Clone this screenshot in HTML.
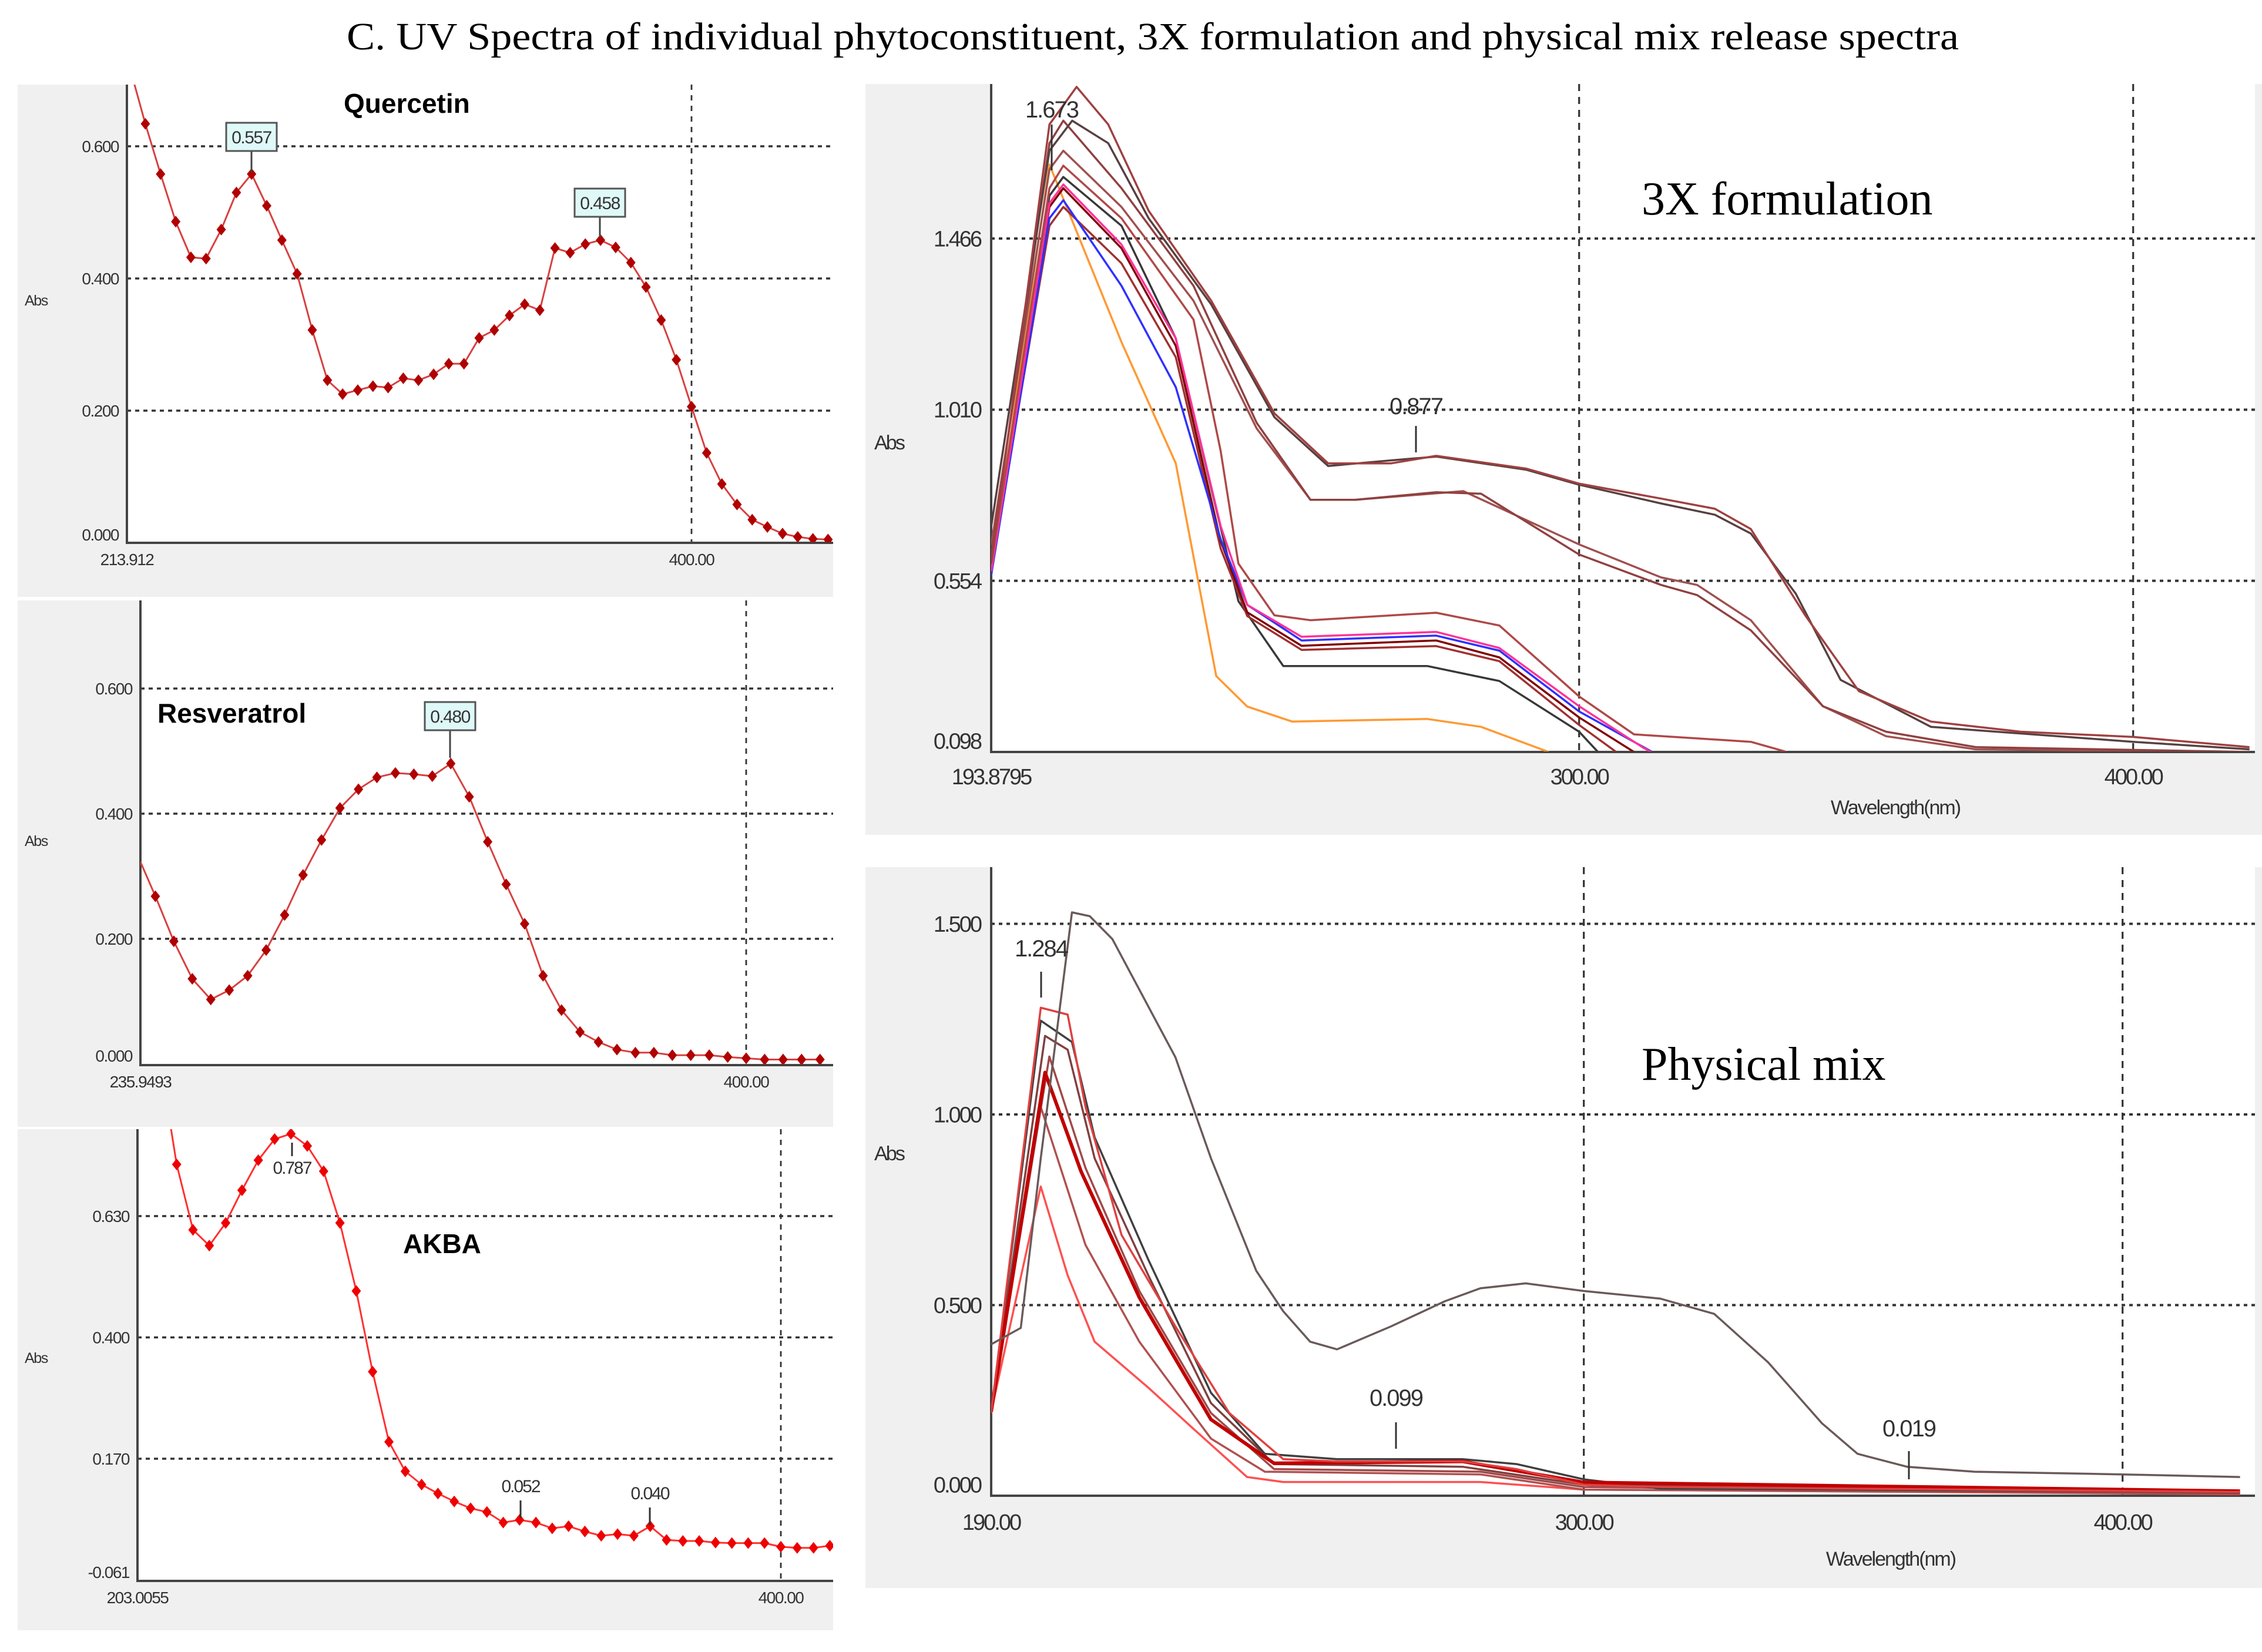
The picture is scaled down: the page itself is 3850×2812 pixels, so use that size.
<!DOCTYPE html>
<html><head><meta charset="utf-8">
<style>
html,body{margin:0;padding:0;background:#fff;}
svg{display:block;}
text{font-family:"Liberation Sans",sans-serif;}
</style></head>
<body>
<svg id="fig" xmlns="http://www.w3.org/2000/svg" width="3850" height="2812" viewBox="0 0 3850 2812">
<text x="1962" y="84" text-anchor="middle" font-size="66" style="font-family:'Liberation Serif',serif" textLength="2744" lengthAdjust="spacingAndGlyphs">C. UV Spectra of individual phytoconstituent, 3X formulation and physical mix release spectra</text>
</svg>
<script>
// ---------- data ----------
const quercetinWavelengths = [210,220,225,230,235,240,245,250,255,260,265,270,275,280,285,290,295,300,305,310,315,320,325,330,335,340,345,350,355,360,365,370,375,380,385,390,395,400,405,410,415,420,425,430,435,440,445];
const quercetinAbs = [0.80,0.634,0.558,0.486,0.432,0.430,0.474,0.530,0.558,0.510,0.458,0.407,0.322,0.246,0.225,0.231,0.237,0.235,0.249,0.246,0.255,0.271,0.271,0.310,0.322,0.344,0.361,0.352,0.446,0.439,0.452,0.458,0.447,0.424,0.387,0.337,0.277,0.206,0.136,0.089,0.058,0.035,0.024,0.014,0.009,0.006,0.005];
const quercetinTicks = ["0.000","0.200","0.400","0.600"];

const resveratrolWavelengths = [235.95,240,245,250,255,260,265,270,275,280,285,290,295,300,305,310,315,320,325,330,335,340,345,350,355,360,365,370,375,380,385,390,395,400,405,410,415,420];
const resveratrolAbs = [0.323,0.268,0.196,0.136,0.103,0.118,0.141,0.182,0.238,0.302,0.358,0.409,0.439,0.458,0.465,0.463,0.460,0.480,0.427,0.355,0.287,0.224,0.141,0.086,0.051,0.035,0.023,0.018,0.018,0.014,0.014,0.014,0.011,0.009,0.007,0.007,0.007,0.007];
const resveratrolTicks = ["0.000","0.200","0.400","0.600"];

const akbaWavelengths = [208,215,220,225,230,235,240,245,250,255,260,265,270,275,280,285,290,295,300,305,310,315,320,325,330,335,340,345,350,355,360,365,370,375,380,385,390,395,400,405,410,415];
const akbaAbs = [1.0,0.728,0.604,0.574,0.617,0.679,0.736,0.776,0.786,0.763,0.715,0.617,0.488,0.335,0.202,0.146,0.121,0.104,0.089,0.076,0.069,0.049,0.054,0.049,0.038,0.042,0.032,0.024,0.027,0.024,0.042,0.016,0.014,0.014,0.011,0.010,0.010,0.010,0.003,0.001,0.001,0.005];
const akbaTicks = ["-0.061","0.170","0.400","0.630"];

// 3X formulation series: [wavelength nm, Abs]
const f3_a1 = [[193.9,0.60],[204.4,1.77],[209.3,1.87],[215,1.77],[222.3,1.54],[233.6,1.30],[245,1.00],[254.7,0.867],[266.1,0.867],[274.2,0.887],[290.4,0.853],[300,0.813],[314.8,0.773],[324.5,0.746],[331,0.692],[340.8,0.462],[350.5,0.26],[363.5,0.179],[379.7,0.152],[400,0.138],[421,0.111]];
const f3_a2 = [[193.9,0.70],[204.4,1.70],[208.5,1.78],[215,1.72],[222.3,1.52],[233.6,1.29],[245,0.99],[254.7,0.86],[266.1,0.875],[274.2,0.885],[290.4,0.85],[300,0.81],[314.8,0.76],[324.5,0.73],[331,0.68],[339.1,0.52],[347.2,0.29],[363.5,0.165],[400,0.125],[421,0.105]];
const f3_b1 = [[193.9,0.62],[204.4,1.72],[206.9,1.78],[217.4,1.60],[230.4,1.34],[241.8,0.975],[251.5,0.77],[259.6,0.77],[274.2,0.79],[282.3,0.786],[300,0.624],[314.8,0.543],[321.3,0.516],[331,0.422],[344,0.22],[355.4,0.152],[371.6,0.111],[421,0.098]];
const f3_b2 = [[193.9,0.65],[204.4,1.65],[206.9,1.70],[217.4,1.55],[230.4,1.30],[241.8,0.96],[251.5,0.77],[259.6,0.77],[279.1,0.793],[300,0.651],[314.8,0.563],[321.3,0.543],[331,0.449],[344,0.22],[355.4,0.14],[371.6,0.105],[421,0.098]];
const f3_c1 = [[193.9,0.60],[204.4,1.60],[206.9,1.66],[217.4,1.52],[230.4,1.25],[235.3,0.90],[238.5,0.60],[245,0.462],[251.5,0.449],[274.2,0.469],[285.6,0.435],[300,0.246],[309.9,0.145],[331,0.125],[337.5,0.098]];
const f3_pink = [[193.9,0.58],[204.4,1.56],[206.9,1.61],[217.4,1.45],[227.2,1.20],[235.3,0.70],[240.1,0.49],[249.9,0.405],[274.2,0.418],[285.6,0.375],[300,0.22],[311.5,0.11],[313,0.098]];
const f3_blue = [[193.9,0.57],[204.4,1.52],[206.9,1.568],[217.4,1.34],[227.2,1.07],[235.3,0.665],[240.1,0.49],[249.9,0.395],[274.2,0.408],[285.6,0.368],[300,0.206],[313.2,0.098]];
const f3_c3 = [[193.9,0.60],[204.4,1.55],[206.9,1.60],[217.4,1.44],[227.2,1.18],[235.3,0.66],[240.1,0.47],[249.9,0.381],[274.2,0.395],[285.6,0.35],[300,0.19],[309.9,0.098]];
const f3_c4 = [[193.9,0.59],[204.4,1.50],[206.9,1.55],[217.4,1.40],[227.2,1.15],[235.3,0.64],[240.1,0.46],[249.9,0.37],[274.2,0.38],[285.6,0.34],[300,0.17],[306.7,0.098]];
const f3_black = [[193.9,0.60],[204.4,1.58],[206.9,1.63],[217.4,1.50],[227.2,1.20],[233.6,0.80],[238.5,0.50],[246.6,0.327],[272.6,0.327],[285.6,0.287],[300,0.152],[303.4,0.098]];
const f3_orange = [[193.9,0.58],[204.4,1.663],[217.4,1.19],[227.2,0.867],[234.5,0.30],[240.1,0.219],[248.2,0.179],[272.6,0.186],[282.3,0.165],[294.5,0.098]];
const f3Ticks = ["0.098","0.554","1.010","1.466"];

// Physical mix series
const pm_gray = [[190,0.397],[194.2,0.43],[195.5,0.44],[199.2,0.885],[205,1.53],[208.3,1.52],[212.5,1.46],[224.2,1.15],[230.8,0.885],[239.2,0.59],[244.2,0.484],[249.2,0.404],[254.2,0.384],[264.2,0.444],[274.2,0.51],[280.8,0.544],[289.2,0.557],[300,0.537],[314.2,0.517],[324.2,0.477],[334.2,0.35],[344.2,0.19],[350.8,0.11],[360,0.076],[372.5,0.063],[400,0.056],[421.8,0.049]];
const pm_r1 = [[190,0.217],[199.2,1.28],[204.2,1.262],[207.5,1.02],[214.2,0.684],[224.2,0.444],[234.2,0.217],[244.2,0.096],[254.2,0.09],[277.5,0.09],[287.5,0.07],[300,0.029],[314.2,0.023],[421.8,0.01]];
const pm_r2 = [[190,0.22],[199.2,1.246],[205,1.19],[209.2,0.94],[219.2,0.618],[230.8,0.27],[240.8,0.11],[254.2,0.096],[277.5,0.096],[287.5,0.083],[300,0.043],[314.2,0.019],[421.8,0.01]];
const pm_r3 = [[190,0.22],[200,1.206],[204.2,1.17],[209.2,0.885],[219.2,0.577],[230.8,0.243],[242.5,0.083],[277.5,0.076],[300,0.029],[421.8,0.008]];
const pm_r4 = [[190,0.22],[200.8,1.152],[207.5,0.86],[217.5,0.537],[230.8,0.217],[242.5,0.07],[280.8,0.063],[300,0.023],[421.8,0.006]];
const pm_r5 = [[190,0.22],[199.2,1.02],[207.5,0.658],[217.5,0.404],[230.8,0.15],[240.8,0.063],[280.8,0.056],[300,0.016],[421.8,0.005]];
const pm_r6 = [[190,0.22],[199.2,0.811],[204.2,0.578],[209.2,0.404],[219.2,0.283],[227.5,0.176],[237.5,0.049],[244.2,0.036],[280.8,0.036],[300,0.016],[421.8,0.004]];
const pm_r7 = [[190,0.22],[200,1.11],[206.7,0.85],[217.5,0.52],[230.8,0.2],[242.5,0.085],[277.5,0.09],[300,0.035],[421.8,0.012]];
const pmTicks = ["0.000","0.500","1.000","1.500"];

// ---------- drawing ----------
const NS = "http://www.w3.org/2000/svg";
const svg = document.getElementById('fig');
function mk(tag, attrs, parent){
  const e = document.createElementNS(NS, tag);
  for (const k in attrs) e.setAttribute(k, attrs[k]);
  (parent||svg).appendChild(e);
  return e;
}
function label(txt, x, y, size, anchor, name, extra){
  const t = mk('text', Object.assign({x:x, y:y, 'font-size':size, 'text-anchor':anchor||'start', fill:'#333'}, extra||{}));
  t.textContent = txt;
  
  
  return t;
}
let clipN = 0;
function panel(p){
  const bg = mk('rect', {x:p.bx0, y:p.by0, width:p.bx1-p.bx0, height:p.by1-p.by0, fill:'#f0f0f0'});
  
  
  const pa = mk('rect', {x:p.x0, y:p.y0, width:p.x1-p.x0, height:p.y1-p.y0, fill:'#fff'});
  
  
  const X = nm => p.x0 + (nm - p.nm0) * p.kx;
  const Y = v => p.yRef - (v - p.vRef) * p.ky;
  p.X = X; p.Y = Y;
  // horizontal grid + ticks
  p.ticks.forEach(t => {
    const yy = Y(parseFloat(t));
    if (Math.abs(yy - p.y1) > 3) {
      const g = mk('line', {x1:p.x0, x2:p.x1, y1:yy, y2:yy, stroke:'#333', 'stroke-width':p.gw, 'stroke-dasharray':p.gd});
      
      
    }
    label(t, p.x0 - p.tickPad, yy + p.tfs*0.35 - (Math.abs(yy-p.y1)<3 ? p.tfs*0.5 : 0), p.tfs, 'end', p.name + '-y-tick', {'letter-spacing':p.tls});
  });
  p.vgrid.forEach(nm => {
    const xx = X(nm);
    const g = mk('line', {x1:xx, x2:xx, y1:p.y0, y2:p.y1, stroke:'#333', 'stroke-width':p.gw*0.8, 'stroke-dasharray':p.vd});
    
    
  });
  p.xlabels.forEach(([nm, txt]) => {
    label(txt, X(nm), p.y1 + p.xlabDy, p.tfs, 'middle', p.name + '-x-tick', {'letter-spacing':p.tls});
  });
  const ax = mk('path', {d:`M${p.x0},${p.y0} L${p.x0},${p.y1} L${p.x1},${p.y1}`, fill:'none', stroke:'#444', 'stroke-width':p.aw});
  
  
  label('Abs', p.absX, p.absY, p.tfs*0.9, 'start', p.name + '-y-axis-title', {'letter-spacing':p.tls});
  clipN++;
  const cp = mk('clipPath', {id:'c'+clipN});
  mk('rect', {x:p.x0, y:p.y0, width:p.x1-p.x0, height:p.y1-p.y0-1}, cp);
  p.g = mk('g', {'clip-path':`url(#c${clipN})`});
  
  
  return p;
}
function series(p, pts, color, w, name){
  const d = pts.map((q,i) => (i?'L':'M') + p.X(q[0]).toFixed(1) + ',' + p.Y(q[1]).toFixed(1)).join(' ');
  const l = mk('path', {d:d, fill:'none', stroke:color, 'stroke-width':w, 'stroke-linejoin':'round'}, p.g);
  
  
}
function markers(p, xs, ys, color, r, name){
  xs.forEach((nm, i) => {
    const cx = p.X(nm), cy = p.Y(ys[i]);
    const m = mk('path', {d:`M${cx},${cy-r} L${cx+r*0.8},${cy} L${cx},${cy+r} L${cx-r*0.8},${cy} Z`, fill:color}, p.g);
    
    
  });
}
function boxLabel(txt, cx, topY, stemTo, name){
  const g = mk('g', {});
  
  
  mk('line', {x1:cx, x2:cx, y1:topY+48, y2:stemTo, stroke:'#444', 'stroke-width':3}, g);
  mk('rect', {x:cx-43, y:topY, width:86, height:48, fill:'#dff8f8', stroke:'#555', 'stroke-width':3}, g);
  const t = mk('text', {x:cx, y:topY+35, 'font-size':30, 'text-anchor':'middle', fill:'#333', 'letter-spacing':-1.5}, g);
  t.textContent = txt;
}
function tickLabel(txt, x, ty, l1, l2, name, fs){
  const g = mk('g', {});
  
  
  mk('line', {x1:x, x2:x, y1:l1, y2:l2, stroke:'#333', 'stroke-width':3}, g);
  const t = mk('text', {x:x, y:ty, 'font-size':fs, 'text-anchor':'middle', fill:'#333', 'letter-spacing':-2}, g);
  t.textContent = txt;
}

// Quercetin
const pQ = panel({name:'quercetin', bx0:30, by0:144, bx1:1418, by1:1016, x0:216, y0:144, x1:1418, y1:924,
  nm0:213.912, kx:961/186.088, vRef:0, yRef:924, ky:1125, ticks:quercetinTicks, vgrid:[400],
  xlabels:[[213.912,'213.912'],[400,'400.00']], tfs:28, tls:-1.5, tickPad:14, xlabDy:38, gw:3.5, gd:'7 7', vd:'9 9', aw:4, absX:42, absY:520});
series(pQ, quercetinWavelengths.map((w,i)=>[w, quercetinAbs[i]]), '#d84040', 3, 'quercetin-line');
markers(pQ, quercetinWavelengths, quercetinAbs, '#b00000', 10, 'quercetin-point');
boxLabel('0.557', 428, 209, 293, 'quercetin-peak-label-1');
boxLabel('0.458', 1021, 321, 404, 'quercetin-peak-label-2');
label('Quercetin', 585, 192, 46, 'start', 'quercetin-title', {'font-weight':'bold', fill:'#000'});

// Resveratrol
const pR = panel({name:'resveratrol', bx0:30, by0:1022, bx1:1418, by1:1918, x0:239, y0:1022, x1:1418, y1:1813,
  nm0:235.9493, kx:1031/164.05, vRef:0, yRef:1811, ky:1065, ticks:resveratrolTicks, vgrid:[400],
  xlabels:[[235.9493,'235.9493'],[400,'400.00']], tfs:28, tls:-1.5, tickPad:14, xlabDy:38, gw:3.5, gd:'7 7', vd:'9 9', aw:4, absX:42, absY:1440});
series(pR, resveratrolWavelengths.map((w,i)=>[w, resveratrolAbs[i]]), '#d84040', 3, 'resveratrol-line');
markers(pR, resveratrolWavelengths.slice(1), resveratrolAbs.slice(1), '#b00000', 10, 'resveratrol-point');
boxLabel('0.480', 766, 1195, 1290, 'resveratrol-peak-label');
label('Resveratrol', 268, 1230, 46, 'start', 'resveratrol-title', {'font-weight':'bold', fill:'#000'});

// AKBA
const pA = panel({name:'akba', bx0:30, by0:1922, bx1:1418, by1:2775, x0:234, y0:1922, x1:1418, y1:2691,
  nm0:203.0055, kx:1095/196.99, vRef:0.63, yRef:2070, ky:897.8, ticks:akbaTicks, vgrid:[400],
  xlabels:[[203.0055,'203.0055'],[400,'400.00']], tfs:28, tls:-1.5, tickPad:14, xlabDy:38, gw:3.5, gd:'7 7', vd:'9 9', aw:4, absX:42, absY:2320});
series(pA, akbaWavelengths.map((w,i)=>[w, akbaAbs[i]]), '#ff3030', 3, 'akba-line');
markers(pA, akbaWavelengths.slice(1), akbaAbs.slice(1), '#ee0000', 10, 'akba-point');
tickLabel('0.787', 497, 1998, 1945, 1968, 'akba-peak-label', 30);
tickLabel('0.052', 886, 2540, 2554, 2584, 'akba-label-0052', 30);
tickLabel('0.040', 1106, 2552, 2566, 2596, 'akba-label-0040', 30);
label('AKBA', 686, 2133, 46, 'start', 'akba-title', {'font-weight':'bold', fill:'#000'});

// 3X formulation
const pF = panel({name:'formulation-3x', bx0:1473, by0:143, bx1:3850, by1:1421, x0:1687, y0:143, x1:3838, y1:1280,
  nm0:193.8795, kx:9.43, vRef:0.098, yRef:1280, ky:638.9, ticks:f3Ticks, vgrid:[300,400],
  xlabels:[[193.8795,'193.8795'],[300,'300.00'],[400,'400.00']], tfs:38, tls:-3, tickPad:18, xlabDy:55, gw:4, gd:'6 7', vd:'12 10', aw:4, absX:1488, absY:765});
series(pF, f3_orange, '#ff9933', 3.5, 'formulation-3x-orange-series');
series(pF, f3_black, '#383838', 3.5, 'formulation-3x-black-series');
series(pF, f3_c4, '#a03030', 3.5, 'formulation-3x-series-c4');
series(pF, f3_c3, '#800000', 3.5, 'formulation-3x-series-c3');
series(pF, f3_blue, '#3030ff', 3.5, 'formulation-3x-blue-series');
series(pF, f3_pink, '#ff3399', 3.5, 'formulation-3x-pink-series');
series(pF, f3_c1, '#b04848', 3.5, 'formulation-3x-series-c1');
series(pF, f3_b2, '#a05050', 3.5, 'formulation-3x-series-b2');
series(pF, f3_b1, '#904040', 3.5, 'formulation-3x-series-b1');
series(pF, f3_a2, '#584040', 3.5, 'formulation-3x-series-a2');
series(pF, f3_a1, '#a04040', 3.5, 'formulation-3x-series-a1');
tickLabel('1.673', 1790, 200, 212, 290, 'formulation-3x-peak-label', 40);
tickLabel('0.877', 2410, 705, 725, 770, 'formulation-3x-label-0877', 40);
label('Wavelength(nm)', 3226, 1386, 34, 'middle', 'formulation-3x-x-axis-title', {'letter-spacing':-2});
label('3X formulation', 2794, 365, 80, 'start', 'formulation-3x-title', {fill:'#000', style:"font-family:'Liberation Serif',serif"});

// Physical mix
const pP = panel({name:'physical-mix', bx0:1473, by0:1476, bx1:3850, by1:2703, x0:1687, y0:1476, x1:3838, y1:2546,
  nm0:190, kx:9.17, vRef:0, yRef:2546, ky:649, ticks:pmTicks, vgrid:[300,400],
  xlabels:[[190,'190.00'],[300,'300.00'],[400,'400.00']], tfs:38, tls:-3, tickPad:18, xlabDy:58, gw:4, gd:'6 7', vd:'12 10', aw:4, absX:1488, absY:1975});
series(pP, pm_r6, '#ff5050', 3.5, 'physical-mix-series-r6');
series(pP, pm_r5, '#b05050', 3.5, 'physical-mix-series-r5');
series(pP, pm_r4, '#a04848', 3.5, 'physical-mix-series-r4');
series(pP, pm_r3, '#804040', 3.5, 'physical-mix-series-r3');
series(pP, pm_r2, '#404040', 3.5, 'physical-mix-series-r2');
series(pP, pm_r7, '#c00000', 6, 'physical-mix-series-r7');
series(pP, pm_r1, '#e04040', 3.5, 'physical-mix-series-r1');
series(pP, pm_gray, '#6a5a5a', 3.5, 'physical-mix-gray-series');
tickLabel('1.284', 1772, 1628, 1654, 1698, 'physical-mix-peak-label', 40);
tickLabel('0.099', 2376, 2393, 2421, 2466, 'physical-mix-label-0099', 40);
tickLabel('0.019', 3249, 2445, 2470, 2518, 'physical-mix-label-0019', 40);
label('Wavelength(nm)', 3218, 2665, 34, 'middle', 'physical-mix-x-axis-title', {'letter-spacing':-2});
label('Physical mix', 2794, 1838, 80, 'start', 'physical-mix-title', {fill:'#000', style:"font-family:'Liberation Serif',serif"});
</script>
</body></html>
